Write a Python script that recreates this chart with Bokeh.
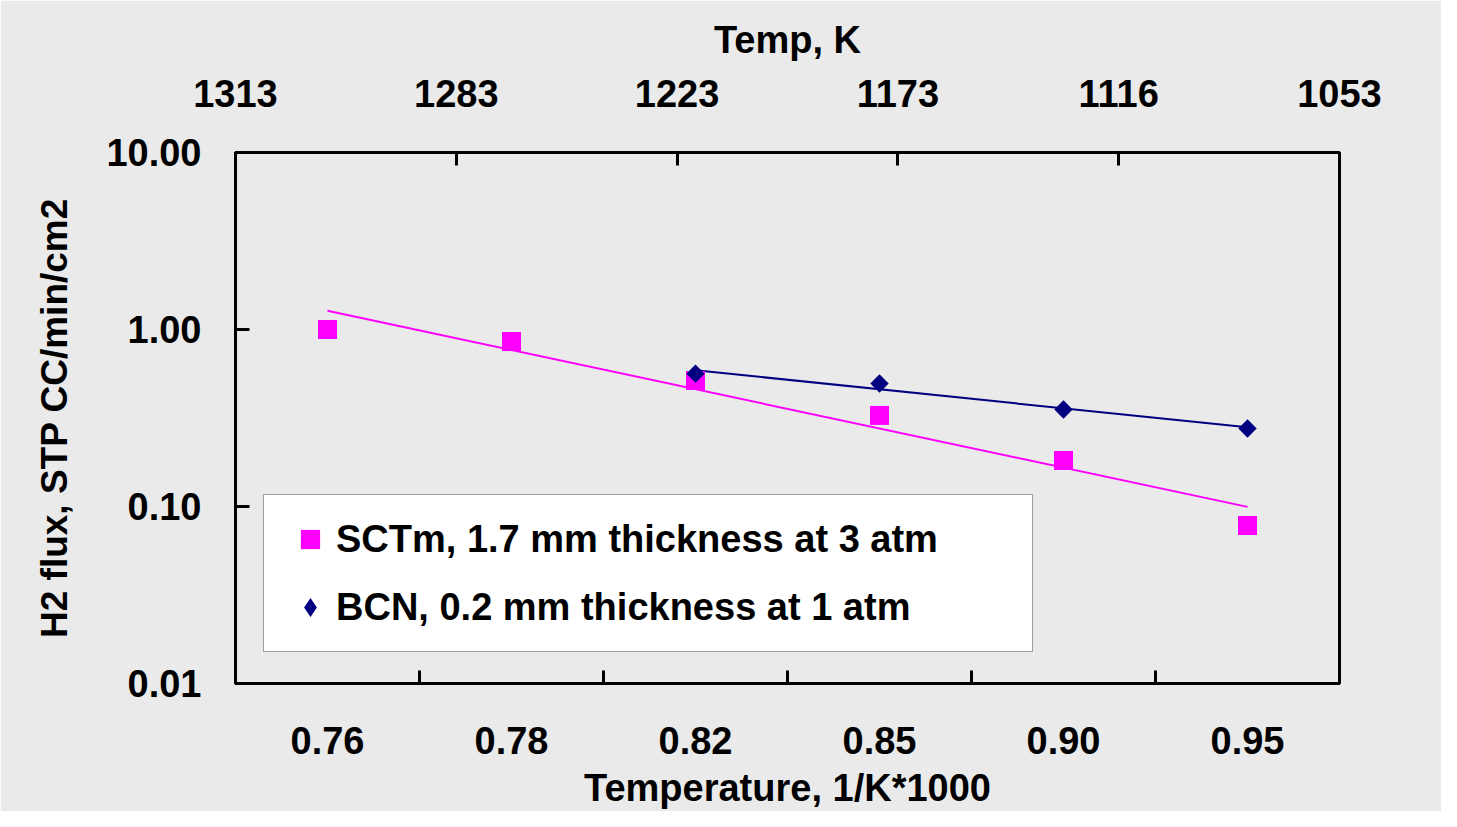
import numpy as np
from bokeh.plotting import figure
from bokeh.models import (Range1d, LinearAxis, FixedTicker, NumeralTickFormatter,
                          Legend, LegendItem)
from bokeh.embed import file_html
from bokeh.resources import INLINE

# ---- data ----
bottom_labels = ["0.76", "0.78", "0.82", "0.85", "0.90", "0.95"]   # 1/K*1000 categories
top_labels = ["1313", "1283", "1223", "1173", "1116", "1053"]      # Temp, K
sctm_flux = [1.00, 0.855, 0.515, 0.327, 0.182, 0.078]              # SCTm, 1.7 mm at 3 atm
bcn_flux = [0.563, 0.495, 0.353, 0.276]                            # BCN, 0.2 mm at 1 atm
bcn_first_category = 2                                             # BCN starts at "0.82"
y_ticks = [0.01, 0.1, 1, 10]

FONT = "Liberation Sans"
BG = "#EAEAEA"
PINK = "#FF00FF"
NAVY = "#000080"

cat_pos = [i + 1 for i in range(len(bottom_labels))]
sctm_x = cat_pos
bcn_x = cat_pos[bcn_first_category:]


def trend(x, y):
    """Excel-style exponential trendline fitted to the points."""
    x = np.asarray(x, dtype=float)
    b, a = np.polyfit(x, np.log10(y), 1)
    xx = np.array([x[0], x[-1]])
    return xx, 10 ** (a + b * xx)


p = figure(width=1441, height=811,
           x_range=Range1d(0.5, len(bottom_labels) + 0.5),
           y_range=Range1d(y_ticks[0], y_ticks[-1]),
           y_axis_type="log",
           output_backend="svg", toolbar_location=None,
           min_border_left=235, min_border_right=102,
           min_border_top=152, min_border_bottom=128)

p.background_fill_color = BG
p.border_fill_color = BG
p.outline_line_color = "black"
p.outline_line_width = 3
p.xgrid.visible = False
p.ygrid.visible = False

xa = p.below[0]
ya = p.left[0]

# top (secondary) axis: Temp, K
p.extra_x_ranges = {"top": Range1d(0, len(top_labels) - 1)}
top_axis = LinearAxis(x_range_name="top",
                      ticker=FixedTicker(ticks=list(range(len(top_labels)))),
                      major_label_overrides={i: t for i, t in enumerate(top_labels)},
                      axis_label="Temp, K")
p.add_layout(top_axis, "above")

xa.ticker = FixedTicker(ticks=cat_pos, minor_ticks=[c + 0.5 for c in cat_pos[:-1]])
xa.major_label_overrides = {c: l for c, l in zip(cat_pos, bottom_labels)}
xa.axis_label = "Temperature, 1/K*1000"
xa.major_tick_in = 0
xa.major_tick_out = 0
xa.minor_tick_in = 13
xa.minor_tick_out = 0
xa.minor_tick_line_width = 3
xa.minor_tick_line_color = "black"
xa.major_label_standoff = 43
xa.axis_label_standoff = 10

ya.ticker = FixedTicker(ticks=y_ticks)
ya.formatter = NumeralTickFormatter(format="0.00")
ya.axis_label = "H2 flux, STP CC/min/cm2"
ya.major_tick_in = 14
ya.major_tick_out = 0
ya.minor_tick_line_color = None
ya.major_label_standoff = 34
ya.axis_label_standoff = 28

top_axis.major_tick_in = 13
top_axis.major_tick_out = 0
top_axis.minor_tick_line_color = None
top_axis.major_label_standoff = 46
top_axis.axis_label_standoff = 16

for ax in (xa, ya, top_axis):
    ax.axis_line_color = "black"
    ax.axis_line_width = 3
    ax.major_tick_line_color = "black"
    ax.major_tick_line_width = 3
    ax.major_label_text_font = FONT
    ax.major_label_text_font_style = "bold"
    ax.major_label_text_font_size = "38px"
    ax.major_label_text_color = "black"
    ax.axis_label_text_font = FONT
    ax.axis_label_text_font_style = "bold"
    ax.axis_label_text_font_size = "38px"
    ax.axis_label_text_color = "black"
ya.axis_label_text_font_size = "37px"

# trendlines
tx, ty = trend(sctm_x, sctm_flux)
p.line(tx, ty, line_color=PINK, line_width=2)
tx, ty = trend(bcn_x, bcn_flux)
p.line(tx, ty, line_color=NAVY, line_width=2)

# points
r_sctm = p.scatter(sctm_x, sctm_flux, marker="square", size=19,
                   fill_color=PINK, line_color=PINK, line_width=0)
r_bcn = p.scatter(bcn_x, bcn_flux, marker="square", size=13, angle=np.pi / 4,
                  fill_color=NAVY, line_color=NAVY, line_width=0)
# same BCN points as a diamond glyph, used only for the legend swatch
r_bcn_key = p.scatter(bcn_x, bcn_flux, marker="diamond", size=19,
                      fill_color=NAVY, line_color=NAVY, line_width=0, visible=False)

legend = Legend(items=[
    LegendItem(label="SCTm, 1.7 mm thickness at 3 atm", renderers=[r_sctm]),
    LegendItem(label="BCN, 0.2 mm thickness at 1 atm", renderers=[r_bcn_key]),
], location=(28, 31))
legend.label_text_font = FONT
legend.label_text_font_style = "bold"
legend.label_text_font_size = "38px"
legend.label_text_color = "black"
legend.glyph_width = 52
legend.glyph_height = 48
legend.label_standoff = 0
legend.padding = 20
legend.spacing = 20
legend.margin = 0
legend.label_width = 676
legend.border_line_color = "#404040"
legend.border_line_width = 1
legend.background_fill_color = "white"
legend.background_fill_alpha = 1
p.add_layout(legend)

open("out.html", "w").write(file_html(p, INLINE))
